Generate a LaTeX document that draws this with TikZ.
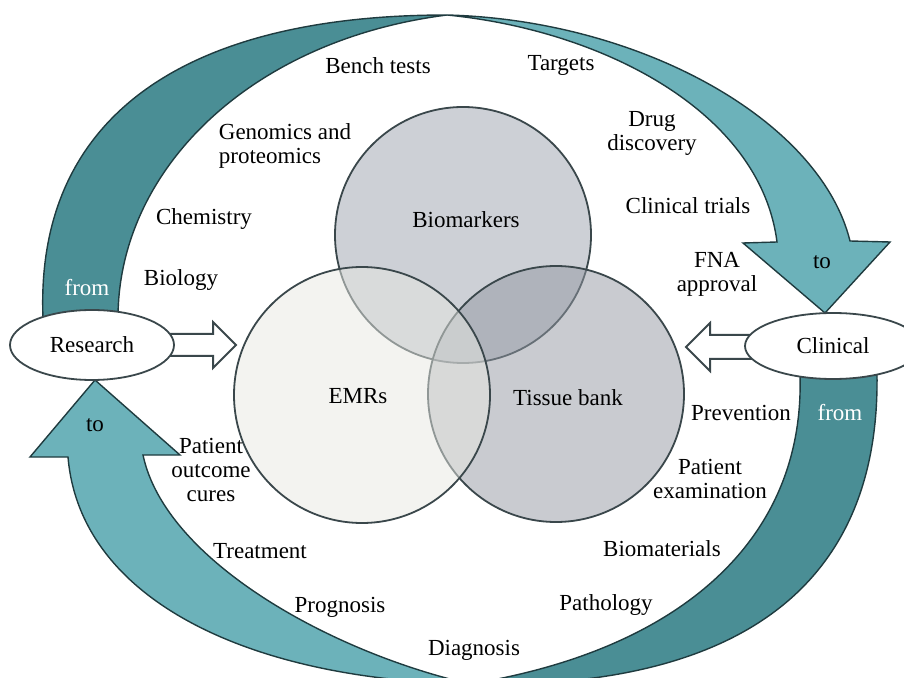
\documentclass[tikz,border=0pt]{standalone}
\usepackage{fontspec}
\setmainfont{Liberation Serif}
\usetikzlibrary{shapes.geometric}
\definecolor{darkteal}{HTML}{4A8E95}
\definecolor{lightteal}{HTML}{6CB2BA}
\definecolor{bandline}{HTML}{1F3B3F}
\definecolor{rimgrey}{HTML}{3A474B}
\definecolor{biofill}{HTML}{9BA1AD}
\definecolor{tisfill}{HTML}{9397A1}
\definecolor{emrfill}{HTML}{E7E7E1}

\begin{document}
\begin{tikzpicture}[x=0.5pt, y=-0.5pt,
darkband/.style={fill=darkteal, draw=bandline, line width=0.7pt},
lightband/.style={fill=lightteal, draw=bandline, line width=0.7pt},
hollowarrow/.style={fill=white, draw=rimgrey, line width=1pt, line join=miter},
endnode/.style={ellipse, draw=rimgrey, fill=white, line width=0.9pt, inner sep=0pt, font=\fontsize{11.5}{12}\selectfont},
venn/.style={circle, draw=rimgrey, line width=0.9pt, fill opacity=0.5, minimum size=128pt, inner sep=0pt},
lbl/.style={font=\fontsize{11.5}{12}\selectfont, inner sep=0pt, align=center},
arrowlbl/.style={lbl, text=white}]
\useasboundingbox (0,0) rectangle (904,678);
\clip (0,0) rectangle (904,678);

\draw[darkband] (43,318) .. controls (35,120) and (180,15) .. (447,15) .. controls (250,40) and (118,170) .. (118,318) -- cycle;
\draw[lightband] (447,15) .. controls (640,20) and (820,120) .. (850,241) -- (890,242) -- (825,313) -- (743,243) -- (777,242) .. controls (760,110) and (600,30) .. (447,15) -- cycle;
\draw[darkband] (877,375) .. controls (880,600) and (720,690) .. (470,684) .. controls (680,650) and (805,540) .. (800,375) -- cycle;
\draw[lightband] (470,684) .. controls (250,680) and (80,600) .. (68,457) -- (30,457) -- (95,380) -- (180,455) -- (143,455) .. controls (165,560) and (330,652) .. (470,684) -- cycle;

\draw[hollowarrow] (160,334) -- (213,334) -- (213,322) -- (236,345) -- (213,368) -- (213,356) -- (160,356) -- cycle;
\draw[hollowarrow] (765,335) -- (710,335) -- (710,323) -- (686,347) -- (710,371) -- (710,359) -- (765,359) -- cycle;

\node[endnode, minimum width=82pt, minimum height=35pt] (res) at (92,345) {Research};
\node[endnode, minimum width=88pt, minimum height=33pt] (clin) at (833,346) {Clinical};

\node[venn, fill=biofill] (bio) at (463,235) {};
\node[venn, fill=tisfill] (tis) at (556,394) {};
\node[venn, fill=emrfill] (emr) at (362,395) {};
\node[lbl] (biolbl) at (466,220) {Biomarkers};
\node[lbl] (emrlbl) at (358,396) {EMRs};
\node[lbl] (tislbl) at (568,398) {Tissue bank};

\node[arrowlbl] (fromres) at (87,288) {from};
\node[lbl] (toclin) at (822,262) {to};
\node[arrowlbl] (fromclin) at (840,413) {from};
\node[lbl] (tores) at (95,425) {to};

\node[lbl] (bench) at (378,66) {Bench tests};
\node[lbl] (targets) at (561,65) {Targets};
\node[lbl, align=left] (genomics) at (285,146) {Genomics and\\proteomics};
\node[lbl] (drug) at (652,133) {Drug\\discovery};
\node[lbl] (chem) at (204,219) {Chemistry};
\node[lbl] (trials) at (688,206) {Clinical trials};
\node[lbl] (fna) at (717,274) {FNA\\approval};
\node[lbl] (biology) at (181,280) {Biology};
\node[lbl] (prevention) at (741,413) {Prevention};
\node[lbl] (outcome) at (211,470) {Patient\\outcome\\cures};
\node[lbl] (exam) at (710,479) {Patient\\examination};
\node[lbl] (treatment) at (260,551) {Treatment};
\node[lbl] (biomat) at (662,549) {Biomaterials};
\node[lbl] (prognosis) at (340,607) {Prognosis};
\node[lbl] (pathology) at (606,605) {Pathology};
\node[lbl] (diagnosis) at (474,650) {Diagnosis};
\end{tikzpicture}
\end{document}
